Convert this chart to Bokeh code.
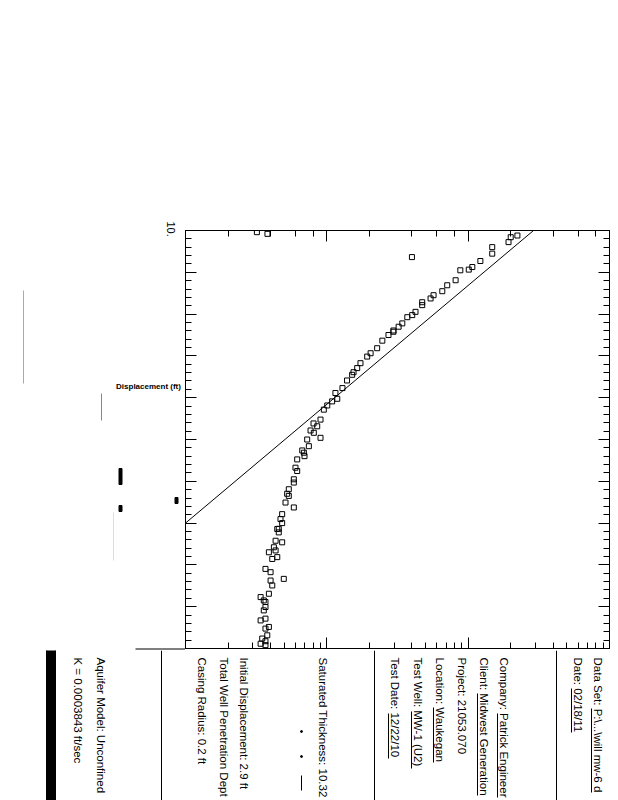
import numpy as np
from bokeh.plotting import figure
from bokeh.models import (Range1d, LogAxis, LinearAxis, SingleIntervalTicker,
                          LogTicker, ColumnDataSource)
from bokeh.layouts import column, row
from bokeh.core.properties import value
from bokeh.embed import file_html
from bokeh.resources import INLINE

# ---------------- data ----------------
time_s = [2.0, 4.0, 6.0, 8.0, 13.9, 19.9, 27.7, 31.8, 36.5, 43.7, 46.8, 47.6,
          59.5, 65.5, 72.6, 77.4, 81.3, 85.8, 89.3, 97.3, 101.2, 103.7, 111.1,
          115.1, 119.6, 121.1, 125.0, 131.8, 140.8, 146.8, 150.8, 158.7, 164.6,
          169.5, 172.6, 179.4, 188.5, 194.4, 201.3, 204.4, 209.3, 214.3, 226.2,
          230.8, 234.2, 239.2, 242.0, 248.0, 250.0, 258.0, 263.1, 265.8, 269.9,
          273.8, 283.7, 287.7, 297.6, 301.5, 309.5, 314.9, 317.5, 325.4, 331.3,
          339.3, 345.2, 350.0, 356.8, 357.1, 361.1, 371.1, 373.0, 378.9, 382.7,
          384.9, 390.7, 392.9, 404.8, 408.7, 416.7, 418.7, 424.6, 434.5, 438.5,
          442.5, 444.4, 450.4, 454.4, 464.3, 466.4, 474.2, 476.2, 484.2, 488.1,
          491.3, 494.3, 496.0]
displacement_ft = [0.032, 0.038, 2.23, 2.00, 1.93, 1.48, 1.48, 0.40, 1.22, 1.07,
                   1.01, 0.88, 0.815, 0.711, 0.656, 0.569, 0.542, 0.473, 0.473,
                   0.424, 0.402, 0.371, 0.342, 0.322, 0.296, 0.296, 0.273, 0.247,
                   0.227, 0.204, 0.193, 0.173, 0.164, 0.1545, 0.151, 0.139, 0.129,
                   0.115, 0.1185, 0.109, 0.1007, 0.0952, 0.0902, 0.0805, 0.0855,
                   0.0767, 0.0809, 0.0902, 0.0726, 0.0746, 0.0670, 0.0688, 0.0695,
                   0.0617, 0.0600, 0.0617, 0.0584, 0.0584, 0.0538, 0.0524, 0.0538,
                   0.0510, 0.0584, 0.0483, 0.0470, 0.0483, 0.0457, 0.0446, 0.0457,
                   0.0434, 0.0483, 0.0422, 0.0434, 0.0389, 0.0446, 0.0411, 0.0368,
                   0.0400, 0.0496, 0.0400, 0.0411, 0.0389, 0.0340, 0.0358, 0.0368,
                   0.0368, 0.0358, 0.0368, 0.0340, 0.0389, 0.0368, 0.0379, 0.0349,
                   0.0368, 0.0340, 0.0368]
fit_time_s = [0.0, 350.0]
fit_disp_ft = [2.9, 0.01]

disp_range = (0.01, 10.0)
time_range = (500.0, 0.0)
time_tick_interval = 50
axis_end_label = "10."
axis_title = "Displacement (ft)"

info_lines = [
    "Data Set: P:\\...\\will mw-6 d",
    "Date: 02/18/11",
    "Company: Patrick Engineer",
    "Client: Midwest Generation",
    "Project: 21053.070",
    "Location: Waukegan",
    "Test Well: MW-1 (U2)",
    "Test Date: 12/22/10",
    "Saturated Thickness: 10.32",
    "Initial Displacement: 2.9 ft",
    "Total Well Penetration Dept",
    "Casing Radius: 0.2 ft",
    "Aquifer Model: Unconfined",
    "K = 0.0003843 ft/sec",
]

# ---------------- layout / styling ----------------
FONT = value("Liberation Sans")
info_x = [597, 577, 503, 483, 461, 439, 417, 394, 322, 243, 223, 201, 100, 77]
underline_x = [591, 571, 497, 477, 433, 411, 388]
underline_y0 = [708, 688, 713, 693, 707, 711, 713]
underline_y1 = [792, 732, 797, 795, 762, 768, 758]

# ---- left strip (labels outside the frame) ----
left = figure(width=185, height=650, x_range=Range1d(0, 185), y_range=Range1d(650, 0),
              toolbar_location=None, output_backend="svg", min_border=0,
              x_axis_location=None, y_axis_location=None, outline_line_color=None,
              frame_align=False)
left.xgrid.visible = False
left.ygrid.visible = False
left.text(x=[148], y=[386], text=[axis_title], text_font=FONT, text_font_size="8px",
          text_font_style="bold", text_align="center", text_baseline="middle",
          text_color="black")
left.text(x=[170], y=[221], text=[axis_end_label], text_font=FONT, text_font_size="11px",
          angle=-np.pi / 2, text_align="left", text_baseline="middle", text_color="black")
left.segment(x0=[23, 101, 113], y0=[290, 393, 512], x1=[23, 101, 113], y1=[383, 420, 560],
             line_color=["#aaaaaa", "#888888", "#dddddd"], line_width=1)
left.quad(left=[118.5, 118.5, 174.5], right=[121.5, 121.5, 177.5],
          top=[468, 505, 497], bottom=[484, 511, 503], color="black")
left.segment(x0=[135], y0=[648.5], x1=[185], y1=[648.5], line_color="black", line_width=1)

# ---- main plot ----
p = figure(width=433, height=650, x_axis_type="log",
           x_range=Range1d(*disp_range), y_range=Range1d(*time_range),
           toolbar_location=None, output_backend="svg",
           min_border_left=0, min_border_right=9, min_border_top=230, min_border_bottom=2,
           outline_line_color="black", background_fill_color="white",
           frame_align=False)
p.xgrid.visible = False
p.ygrid.visible = False
p.add_layout(LogAxis(ticker=LogTicker()), "above")
p.add_layout(LinearAxis(), "right")
for ax in p.xaxis + p.yaxis:
    ax.major_tick_in = 11
    ax.major_tick_out = 0
    ax.minor_tick_in = 6
    ax.minor_tick_out = 0
    ax.major_label_text_color = None
    ax.major_label_text_font_size = "0px"
    ax.major_label_standoff = 0
    ax.axis_line_color = "black"
    ax.major_tick_line_color = "black"
    ax.minor_tick_line_color = "black"
for ax in p.yaxis:
    ax.ticker = SingleIntervalTicker(interval=time_tick_interval, num_minor_ticks=5)

src = ColumnDataSource(dict(t=time_s, d=displacement_ft))
p.scatter("d", "t", source=src, marker="square", size=5, fill_color=None,
          line_color="black", line_width=1)
p.line(fit_disp_ft, fit_time_s, line_color="black", line_width=1)

# ---- info block ----
info = figure(width=618, height=150, x_range=Range1d(0, 618), y_range=Range1d(800, 650),
              toolbar_location=None, output_backend="svg", min_border=0,
              x_axis_location=None, y_axis_location=None, outline_line_color=None,
              frame_align=False)
info.xgrid.visible = False
info.ygrid.visible = False
info.text(x=info_x, y=[657] * len(info_x), text=info_lines, text_font=FONT,
          text_font_size="11.5px", angle=-np.pi / 2, text_align="left",
          text_baseline="middle", text_color="black")
info.segment(x0=underline_x, y0=underline_y0, x1=underline_x, y1=underline_y1,
             line_color="black", line_width=1)
info.segment(x0=[161, 374, 556], y0=[650] * 3, x1=[161, 374, 556], y1=[800] * 3,
             line_color="black", line_width=1)
info.quad(left=[46], right=[55], top=[649], bottom=[800], color="black")
info.segment(x0=[301], y0=[775], x1=[301], y1=[790], line_color="black", line_width=1)
info.scatter(x=[301, 301], y=[731, 756], size=2, color="black")

layout = column(row(left, p), info)
open("out.html", "w").write(file_html(layout, INLINE))
